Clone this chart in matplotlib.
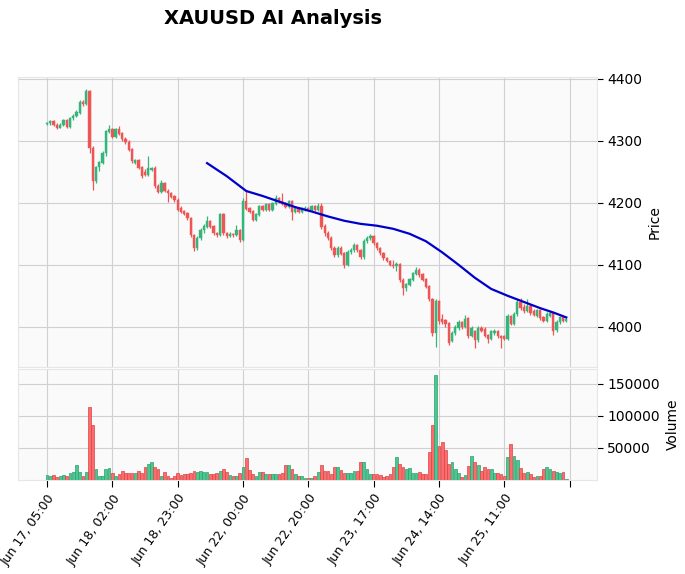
import matplotlib
matplotlib.use("Agg")
import matplotlib.pyplot as plt
import numpy as np

# hourly XAUUSD candles (index 0..159)
opens = [4327, 4329, 4331, 4326, 4321, 4326, 4334, 4322, 4337, 4340,
         4346, 4363, 4360, 4380, 4288, 4235, 4258, 4265, 4280, 4315,
         4318, 4307, 4318, 4312, 4303, 4298, 4286, 4265, 4268, 4257,
         4250, 4245, 4254, 4256, 4227, 4218, 4232, 4219, 4216, 4210,
         4205, 4192, 4186, 4183, 4175, 4148, 4127, 4143, 4156, 4162,
         4170, 4162, 4151, 4148, 4181, 4151, 4147, 4150, 4148, 4156,
         4140, 4202, 4191, 4186, 4173, 4181, 4194, 4189, 4197, 4189,
         4199, 4207, 4203, 4199, 4194, 4202, 4186, 4191, 4186, 4189,
         4191, 4189, 4194, 4189, 4194, 4162, 4151, 4143, 4127, 4116,
         4127, 4118, 4100, 4121, 4124, 4132, 4124, 4113, 4138, 4143,
         4146, 4135, 4127, 4119, 4111, 4106, 4100, 4098, 4101, 4075,
         4062, 4068, 4076, 4086, 4092, 4084, 4076, 4065, 4045, 3990,
         4041, 4012, 4010, 4005, 3978, 3990, 3998, 4008, 4000, 4014,
         3986, 3992, 3979, 3998, 3996, 3986, 3980, 3990, 3993, 3985,
         3984, 3981, 4017, 4005, 4021, 4040, 4032, 4025, 4033, 4025,
         4018, 4026, 4016, 4010, 4018, 4022, 3995, 4008, 4015, 4010]
highs = [4331, 4333, 4333, 4328, 4328, 4336, 4336, 4339, 4343, 4350,
         4366, 4366, 4383, 4382, 4292, 4260, 4268, 4283, 4318, 4326,
         4321, 4321, 4324, 4314, 4306, 4302, 4289, 4271, 4271, 4260,
         4254, 4276, 4258, 4259, 4230, 4236, 4234, 4222, 4218, 4212,
         4207, 4195, 4189, 4185, 4177, 4150, 4146, 4159, 4165, 4178,
         4172, 4164, 4153, 4184, 4183, 4153, 4153, 4152, 4164, 4158,
         4207, 4221, 4194, 4188, 4184, 4197, 4196, 4200, 4200, 4202,
         4212, 4210, 4216, 4201, 4205, 4204, 4194, 4193, 4194, 4195,
         4193, 4197, 4196, 4199, 4199, 4165, 4154, 4146, 4130, 4130,
         4130, 4120, 4124, 4127, 4135, 4134, 4126, 4141, 4146, 4149,
         4148, 4137, 4129, 4121, 4113, 4108, 4108, 4104, 4103, 4078,
         4071, 4079, 4089, 4097, 4094, 4086, 4078, 4067, 4047, 4044,
         4043, 4020, 4013, 4008, 3993, 4003, 4011, 4010, 4019, 4016,
         4001, 3995, 4001, 4001, 3999, 3988, 3995, 3996, 3995, 3987,
         3986, 4020, 4019, 4024, 4044, 4047, 4036, 4045, 4036, 4028,
         4029, 4028, 4018, 4023, 4026, 4024, 4011, 4018, 4017, 4014]
lows = [4325, 4326, 4324, 4319, 4320, 4324, 4320, 4320, 4334, 4338,
        4344, 4357, 4358, 4280, 4221, 4232, 4252, 4262, 4276, 4312,
        4305, 4305, 4310, 4300, 4295, 4284, 4264, 4262, 4254, 4240,
        4243, 4243, 4251, 4224, 4215, 4216, 4217, 4202, 4207, 4202,
        4186, 4184, 4180, 4172, 4145, 4122, 4124, 4140, 4152, 4160,
        4159, 4148, 4145, 4146, 4148, 4143, 4145, 4145, 4146, 4137,
        4138, 4188, 4183, 4170, 4170, 4178, 4186, 4186, 4187, 4186,
        4196, 4200, 4196, 4191, 4192, 4172, 4183, 4183, 4184, 4187,
        4186, 4187, 4186, 4187, 4158, 4146, 4140, 4124, 4113, 4112,
        4115, 4095, 4098, 4118, 4121, 4121, 4110, 4110, 4135, 4140,
        4132, 4124, 4116, 4108, 4104, 4098, 4095, 4090, 4072, 4052,
        4058, 4065, 4073, 4083, 4081, 4073, 4062, 4042, 3985, 3968,
        4005, 4005, 4000, 3970, 3975, 3987, 3995, 3997, 3998, 3982,
        3983, 3966, 3976, 3991, 3983, 3973, 3978, 3987, 3982, 3966,
        3978, 3978, 4002, 4003, 4018, 4027, 4022, 4023, 4019, 4017,
        4015, 4011, 4007, 4008, 4015, 3987, 3992, 4005, 4008, 4008]
closes = [4329, 4331, 4326, 4321, 4326, 4334, 4322, 4337, 4340, 4346,
          4363, 4360, 4380, 4288, 4235, 4258, 4265, 4280, 4315, 4318,
          4307, 4318, 4312, 4303, 4298, 4286, 4267, 4268, 4257, 4243,
          4245, 4256, 4256, 4227, 4218, 4232, 4219, 4216, 4210, 4205,
          4188, 4186, 4183, 4175, 4148, 4127, 4143, 4156, 4162, 4170,
          4162, 4151, 4148, 4181, 4151, 4147, 4150, 4148, 4156, 4140,
          4202, 4191, 4186, 4173, 4181, 4194, 4189, 4197, 4189, 4199,
          4207, 4203, 4199, 4194, 4202, 4186, 4191, 4186, 4191, 4191,
          4189, 4194, 4189, 4194, 4162, 4151, 4143, 4127, 4116, 4127,
          4118, 4100, 4121, 4124, 4132, 4124, 4113, 4138, 4143, 4146,
          4135, 4127, 4119, 4111, 4106, 4100, 4098, 4101, 4075, 4062,
          4068, 4076, 4086, 4092, 4084, 4076, 4065, 4045, 3990, 4041,
          4009, 4008, 4005, 3974, 3990, 4000, 4008, 4000, 4012, 3986,
          3998, 3979, 3998, 3994, 3986, 3980, 3992, 3993, 3985, 3982,
          3981, 4017, 4005, 4021, 4040, 4030, 4025, 4033, 4022, 4020,
          4026, 4014, 4010, 4020, 4022, 3993, 4008, 4015, 4010, 4012]
volumes = [7400, 6300, 7900, 5300, 6300, 7400, 6300, 10500, 12600, 23100,
           12600, 6300, 12600, 113000, 85000, 16800, 6300, 6300, 17900, 18900,
           10500, 6300, 10000, 14200, 11600, 11600, 10500, 11600, 14200, 11600,
           19500, 24700, 28400, 21000, 16800, 6300, 12600, 6300, 3700, 6300,
           10500, 7900, 8900, 8900, 11600, 14200, 12600, 14200, 12600, 12600,
           8900, 8900, 10500, 14200, 16800, 13100, 7400, 6300, 6300, 10500,
           19500, 34200, 15800, 8900, 6300, 12600, 12600, 8900, 8900, 8900,
           8900, 8900, 11600, 23700, 23700, 16800, 8900, 6300, 6300, 3700,
           2600, 3700, 6300, 12600, 23700, 14200, 14200, 8900, 20500, 19500,
           15800, 11600, 10500, 11600, 14200, 14200, 28400, 28400, 17900, 8900,
           8900, 8900, 7400, 5300, 6300, 8900, 20500, 36300, 24700, 19500,
           16800, 18400, 11600, 11600, 12600, 10000, 10000, 43100, 85200, 164000,
           53700, 60000, 46800, 24700, 28400, 16800, 10500, 4700, 7900, 22100,
           36800, 27300, 23100, 14200, 19500, 16800, 16800, 11600, 10500, 8900,
           6300, 36300, 56300, 37900, 31600, 18400, 11600, 12600, 10000, 5300,
           6300, 6300, 16800, 19500, 16800, 14200, 12600, 11600, 13100, 2100]

# AI trend line (candle index, price)
trend_idx = [49, 55, 61, 66, 71, 76, 81, 86, 91, 96, 101, 106, 111,
             116, 121, 126, 131, 136, 141, 146, 151, 155, 159]
trend_val = [4264, 4243, 4219, 4211, 4202, 4193, 4186, 4178, 4171, 4166,
             4163, 4158, 4150, 4138, 4120, 4100, 4079, 4061, 4050, 4040,
             4030, 4023, 4015]

tick_labels = ["Jun 17, 05:00", "Jun 18, 02:00", "Jun 18, 23:00", "Jun 22, 00:00",
               "Jun 22, 20:00", "Jun 23, 17:00", "Jun 24, 14:00", "Jun 25, 11:00", ""]

up_c, down_c = "#35b57a", "#ee5555"
vol_up, vol_down = "#4dc790", "#fd6b6c"
grid_c = "#d0d0d0"

o = np.array(opens, float); h = np.array(highs, float)
l = np.array(lows, float); c = np.array(closes, float)
x = np.arange(len(c))
up = c >= o

fig = plt.figure(figsize=(6.85, 5.74), dpi=100)
W, H = 685, 574
ax1 = fig.add_axes([18 / W, 1 - 367 / H, 579 / W, 290 / H])
ax2 = fig.add_axes([18 / W, 1 - 480 / H, 579 / W, 111 / H], sharex=ax1)

for ax in (ax1, ax2):
    ax.set_facecolor("#fafafa")
    ax.grid(True, color=grid_c, linewidth=0.8)
    ax.set_axisbelow(True)
    for s in ax.spines.values():
        s.set_color("#e6e6e6")
    ax.yaxis.tick_right()
    ax.yaxis.set_label_position("right")

# candles
cols = np.where(up, up_c, down_c)
ax1.vlines(x, l, h, colors=cols, linewidth=0.9, zorder=2)
ax1.bar(x, np.abs(c - o) + 0.6, bottom=np.minimum(o, c) - 0.3, width=0.7,
        color=cols, edgecolor=cols, linewidth=0.3, zorder=3)
ax1.plot(trend_idx, trend_val, color="#0000cc", linewidth=1.6, zorder=4)

ax1.set_ylim(3935, 4403)
ax1.set_yticks([4000, 4100, 4200, 4300, 4400])
ax1.set_ylabel("Price", fontsize=10)
ax1.tick_params(axis="x", which="both", bottom=False, labelbottom=False)
ax1.tick_params(axis="y", length=4, labelsize=10)

# volume
vcols = np.where(up, vol_up, vol_down)
ecols = np.where(up, "#2e9e6e", "#d84545")
ax2.bar(x, volumes, width=0.85, color=vcols, edgecolor=ecols, linewidth=0.5, zorder=3)
ax2.set_ylim(0, 173000)
ax2.set_yticks([50000, 100000, 150000])
ax2.set_yticklabels(["50000", "100000", "150000"])
ax2.set_ylabel("Volume", fontsize=10)
ax2.tick_params(axis="y", length=4, labelsize=10)

ax2.set_xlim(-8.9, 168.4)
ax2.set_xticks(np.arange(0, 161, 20))
ax2.set_xticklabels(tick_labels, rotation=55, ha="right", rotation_mode="anchor", fontsize=9)
ax2.tick_params(axis="x", length=5)

fig.text(273 / W, 1 - 18 / H, "XAUUSD AI Analysis", ha="center", va="center",
         fontsize=14, fontweight="bold")

fig.savefig("out.png", dpi=100)
